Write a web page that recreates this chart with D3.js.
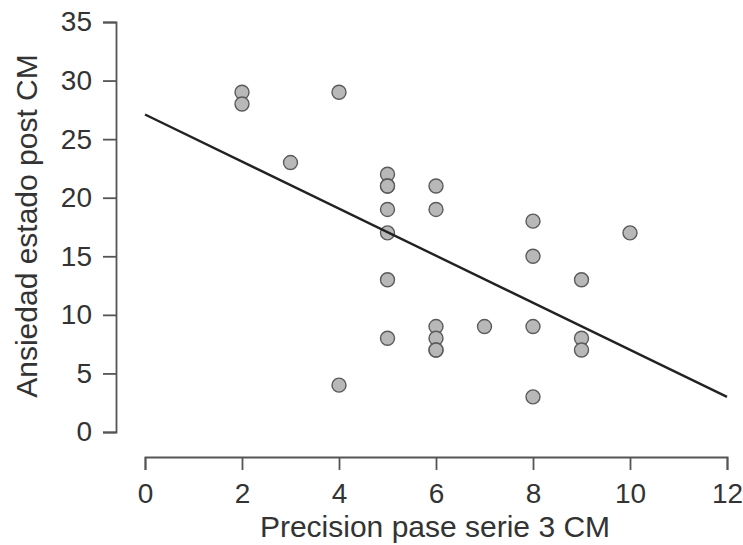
<!DOCTYPE html>
<html>
<head>
<meta charset="utf-8">
<script src="https://cdn.jsdelivr.net/npm/d3@7"></script>
<style>
  body { margin: 0; background: #fff; }
  svg { display: block; }
</style>
</head>
<body>
<div id="chart"></div>
<script>
// Data
const precision = [2, 2, 3, 4, 4, 5, 5, 5, 5, 5, 5, 5, 6, 6, 6, 6, 6, 6, 7, 8, 8, 8, 8, 9, 9, 9, 10];
const ansiedad  = [29, 28, 23, 29, 4, 22, 21, 21, 19, 17, 13, 8, 21, 19, 9, 8, 7, 7, 9, 18, 15, 9, 3, 13, 8, 7, 17];
const fitX = [0, 12];
const fitY = [27.1, 3.0];
const xTicks = [0, 2, 4, 6, 8, 10, 12];
const yTicks = [0, 5, 10, 15, 20, 25, 30, 35];
const xTitle = "Precision pase serie 3 CM";
const yTitle = "Ansiedad estado post CM";

const width = 743, height = 545;
const font = "'Liberation Sans', Arial, sans-serif";
const textColor = "#333";
const axisColor = "#555";

const svg = d3.select("#chart").append("svg")
    .attr("width", width)
    .attr("height", height);

const x = d3.scaleLinear().domain([0, 12]).range([145, 727]);
const y = d3.scaleLinear().domain([0, 35]).range([432, 22]);

// Y axis
const yAxis = svg.append("g")
    .attr("transform", "translate(116,0)")
    .call(d3.axisLeft(y).tickValues(yTicks).tickSize(13).tickPadding(11));
yAxis.select(".domain").attr("stroke", axisColor).attr("stroke-width", 1.8);
yAxis.selectAll(".tick line").attr("stroke", axisColor).attr("stroke-width", 1.8);
yAxis.selectAll("text")
    .style("font-family", font)
    .style("font-size", "28px")
    .attr("fill", textColor);

// X axis
const xAxis = svg.append("g")
    .attr("transform", "translate(0,457)")
    .call(d3.axisBottom(x).tickValues(xTicks).tickSize(13).tickPadding(13));
xAxis.select(".domain").attr("stroke", axisColor).attr("stroke-width", 1.8);
xAxis.selectAll(".tick line").attr("stroke", axisColor).attr("stroke-width", 1.8);
xAxis.selectAll("text")
    .style("font-family", font)
    .style("font-size", "28px")
    .attr("fill", textColor);

// Axis titles
svg.append("text")
    .attr("x", 435)
    .attr("y", 537)
    .attr("text-anchor", "middle")
    .style("font-family", font)
    .style("font-size", "30px")
    .attr("fill", textColor)
    .text(xTitle);

svg.append("text")
    .attr("transform", "rotate(-90)")
    .attr("x", -226)
    .attr("y", 37)
    .attr("text-anchor", "middle")
    .style("font-family", font)
    .style("font-size", "30px")
    .attr("fill", textColor)
    .text(yTitle);

// Points
svg.append("g")
    .selectAll("circle")
    .data(d3.zip(precision, ansiedad))
    .join("circle")
    .attr("cx", d => x(d[0]))
    .attr("cy", d => y(d[1]))
    .attr("r", 7)
    .attr("fill", "#b8b8b8")
    .attr("stroke", "#5a5a5a")
    .attr("stroke-width", 1.4);

// Fit line
const line = d3.line().x(d => x(d[0])).y(d => y(d[1]));
svg.append("path")
    .datum(d3.zip(fitX, fitY))
    .attr("fill", "none")
    .attr("stroke", "#222")
    .attr("stroke-width", 2.4)
    .attr("d", line);
</script>
</body>
</html>
